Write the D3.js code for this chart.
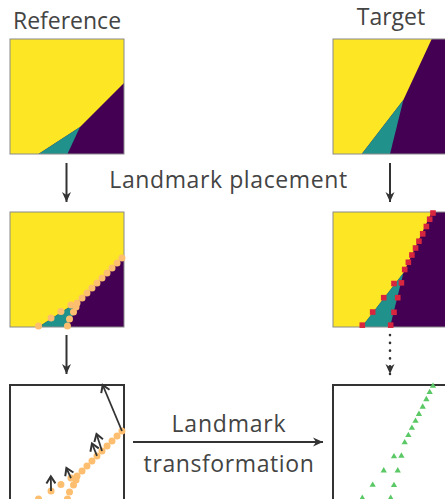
<!DOCTYPE html>
<html>
<head>
<meta charset="utf-8">
<script src="https://cdn.jsdelivr.net/npm/d3@7"></script>
<style>
  html, body { margin: 0; padding: 0; background: #fff; }
  svg { display: block; }
  text { font-family: "Open Sans", sans-serif; fill: #444; }
</style>
</head>
<body>
<svg id="fig" width="445" height="499"></svg>
<script>
// Class regions of the two maps, in unit-square coordinates (0–100, y up).
// The background of each map is the purple class.
const refYellow = [[0, 0], [25.0, 0], [61.4, 23.5], [100, 61.7], [100, 100], [0, 100]];
const refTeal   = [[25.0, 0], [50.4, 0], [61.4, 23.5]];
const tgtYellow = [[0, 0], [25.2, 0], [61.7, 47.0], [86.6, 100], [0, 100]];
const tgtTeal   = [[25.2, 0], [50.0, 0], [61.7, 47.0]];

// Landmarks placed on the class boundaries of the reference map
const refLandmarkX = [98.2, 93.9, 89.5, 85.1, 80.7, 76.3, 71.9, 67.5, 63.2, 58.8,
                      53.5, 57.9, 44.7, 55.7, 36.0, 52.2, 25.0, 50.4];
const refLandmarkY = [60.0, 55.7, 51.3, 47.0, 42.6, 38.3, 33.9, 29.6, 25.2, 20.9,
                      19.1, 17.4, 13.5, 13.0, 7.8, 7.0, 0.9, 0.9];

// Landmarks placed on the class boundaries of the target map
const tgtLandmarkX = [87.7, 84.8, 81.9, 78.7, 75.4, 72.4, 69.2, 66.1, 62.9,
                      60.0, 53.5, 56.8, 44.5, 53.5, 34.8, 50.6, 25.7];
const tgtLandmarkY = [99.1, 93.7, 87.4, 81.0, 74.6, 68.7, 62.6, 56.3, 50.0,
                      38.4, 37.8, 25.5, 25.5, 12.8, 13.0, 1.6, 1.6];

// Displacement arrows: starting landmark index and arrow tip
const arrowFrom = [0, 4, 5, 10, 14];
const arrowToX  = [81.3, 75.9, 71.9, 49.5, 35.8];
const arrowToY  = [100, 57.4, 49.1, 27.8, 20.5];

// Labels
const columnTitles = ["Reference", "Target"];
const stepLabel1 = "Landmark placement";
const stepLabel2 = ["Landmark", "transformation"];

const VIRIDIS = { purple: "#440154", teal: "#21918c", yellow: "#fde725" };
const INK = "#333";
const PW = 114, PH = 115;           // panel size
const colX = [10, 333];             // panel column left edges
const rowY = [39, 212, 385];        // panel row top edges

const svg = d3.select("#fig");

const x = d3.scaleLinear().domain([0, 100]).range([0, PW]);
const y = d3.scaleLinear().domain([0, 100]).range([PH, 0]);
const poly = d3.line().x(d => x(d[0])).y(d => y(d[1]));

// arrowhead markers
const defs = svg.append("defs");
defs.append("marker")
  .attr("id", "headFilled")
  .attr("viewBox", "-11 -6 12 12")
  .attr("refX", 0).attr("refY", 0)
  .attr("markerWidth", 12).attr("markerHeight", 12)
  .attr("markerUnits", "userSpaceOnUse")
  .attr("orient", "auto")
  .append("path")
  .attr("d", "M0,0 L-10,-4.5 L-7,0 L-10,4.5 Z")
  .attr("fill", INK);

function classMap(g, yellow, teal) {
  g.append("rect").attr("width", PW).attr("height", PH).attr("fill", VIRIDIS.purple);
  g.append("path").attr("d", poly(yellow) + "Z").attr("fill", VIRIDIS.yellow);
  g.append("path").attr("d", poly(teal) + "Z").attr("fill", VIRIDIS.teal);
  g.append("rect").attr("width", PW).attr("height", PH)
    .attr("fill", "none").attr("stroke", "#8a8a8a").attr("stroke-width", 1);
}

function emptyPanel(g) {
  g.append("rect").attr("width", PW).attr("height", PH)
    .attr("fill", "#fff").attr("stroke", INK).attr("stroke-width", 2);
}

const refPts = refLandmarkX.map((v, i) => [v, refLandmarkY[i]]);
const tgtPts = tgtLandmarkX.map((v, i) => [v, tgtLandmarkY[i]]);

// Row 1: class maps
classMap(svg.append("g").attr("transform", `translate(${colX[0]},${rowY[0]})`), refYellow, refTeal);
classMap(svg.append("g").attr("transform", `translate(${colX[1]},${rowY[0]})`), tgtYellow, tgtTeal);

// Row 2: class maps with landmarks
const g2a = svg.append("g").attr("transform", `translate(${colX[0]},${rowY[1]})`);
classMap(g2a, refYellow, refTeal);
g2a.selectAll("circle.lm").data(refPts).join("circle")
  .attr("class", "lm")
  .attr("cx", d => x(d[0])).attr("cy", d => y(d[1]))
  .attr("r", 3.5).attr("fill", "#fdbf6f");

const g2b = svg.append("g").attr("transform", `translate(${colX[1]},${rowY[1]})`);
classMap(g2b, tgtYellow, tgtTeal);
const sq = 5.6;
g2b.selectAll("rect.lm").data(tgtPts).join("rect")
  .attr("class", "lm")
  .attr("x", d => x(d[0]) - sq / 2).attr("y", d => y(d[1]) - sq / 2)
  .attr("width", sq).attr("height", sq).attr("fill", "#d7263d");

// Row 3: landmark sets
const g3a = svg.append("g").attr("transform", `translate(${colX[0]},${rowY[2]})`);
emptyPanel(g3a);
g3a.selectAll("circle.lm").data(refPts).join("circle")
  .attr("class", "lm")
  .attr("cx", d => x(d[0])).attr("cy", d => y(d[1]))
  .attr("r", 3.5).attr("fill", "#fdbf6f");

const arrows = arrowFrom.map((k, i) => ({ from: refPts[k], to: [arrowToX[i], arrowToY[i]] }));
const ag = g3a.selectAll("g.disp").data(arrows).join("g").attr("class", "disp");
ag.append("line")
  .attr("x1", d => x(d.from[0])).attr("y1", d => y(d.from[1]))
  .attr("x2", d => x(d.to[0])).attr("y2", d => y(d.to[1]))
  .attr("stroke", INK).attr("stroke-width", 1.8);
ag.append("path")
  .attr("d", "M-7,-4.5 L0,0 L-7,4.5")
  .attr("fill", "none").attr("stroke", INK).attr("stroke-width", 2)
  .attr("stroke-linejoin", "miter")
  .attr("transform", d => {
    const a = Math.atan2(y(d.to[1]) - y(d.from[1]), x(d.to[0]) - x(d.from[0])) * 180 / Math.PI;
    return `translate(${x(d.to[0])},${y(d.to[1])}) rotate(${a})`;
  });

const g3b = svg.append("g").attr("transform", `translate(${colX[1]},${rowY[2]})`);
emptyPanel(g3b);
g3b.selectAll("path.lm").data(tgtPts).join("path")
  .attr("class", "lm")
  .attr("d", d3.symbol(d3.symbolTriangle, 17))
  .attr("transform", d => `translate(${x(d[0])},${y(d[1])})`)
  .attr("fill", "#5ac864");

// Column titles
svg.append("text").attr("x", 67).attr("y", 29).attr("text-anchor", "middle")
  .attr("font-size", 23).text(columnTitles[0]);
svg.append("text").attr("x", 391).attr("y", 25).attr("text-anchor", "middle")
  .attr("font-size", 23).text(columnTitles[1]);

// Flow arrows
function flow(x1, y1, x2, y2, dotted) {
  const l = svg.append("line")
    .attr("x1", x1).attr("y1", y1).attr("x2", x2).attr("y2", y2)
    .attr("stroke", INK).attr("stroke-width", dotted ? 2.6 : 2)
    .attr("marker-end", "url(#headFilled)");
  if (dotted) l.attr("stroke-dasharray", "0.1 7.7").attr("stroke-linecap", "round");
}
flow(66.5, 163, 66.5, 202);
flow(390, 163, 390, 202);
flow(66.5, 335, 66.5, 374);
flow(390, 335, 390, 374, true);
flow(133, 442, 323, 442);

// Step labels
svg.append("text").attr("x", 228.5).attr("y", 188).attr("text-anchor", "middle")
  .attr("font-size", 23).attr("letter-spacing", 0.6).text(stepLabel1);
svg.append("text").attr("x", 229).attr("y", 432).attr("text-anchor", "middle")
  .attr("font-size", 23).attr("letter-spacing", 0.8).text(stepLabel2[0]);
svg.append("text").attr("x", 229).attr("y", 472).attr("text-anchor", "middle")
  .attr("font-size", 23).attr("letter-spacing", 0.6).text(stepLabel2[1]);
</script>
</body>
</html>
